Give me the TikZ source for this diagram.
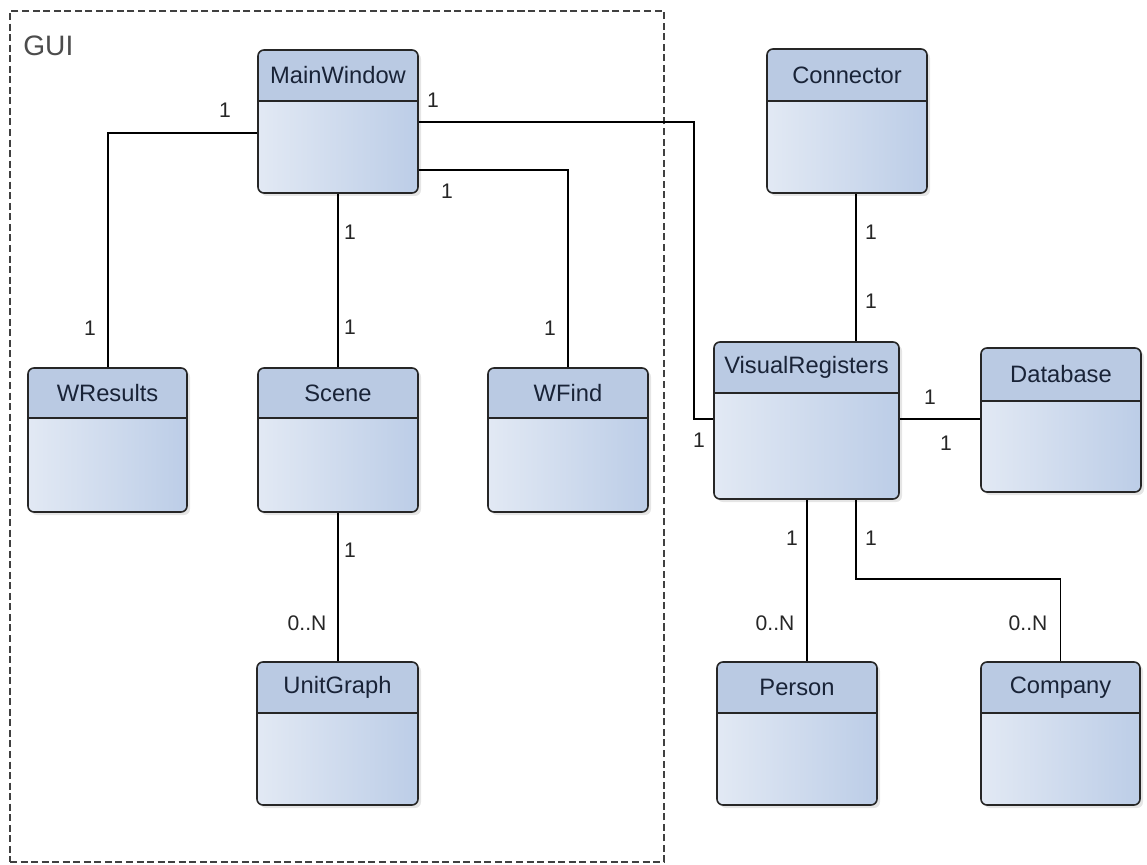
\documentclass[tikz,border=0pt]{standalone}
\usepackage{fontspec}
\setmainfont{Liberation Sans}
\usetikzlibrary{fit,calc}
\definecolor{headc}{RGB}{186,202,227}
\definecolor{bodyL}{RGB}{226,233,244}
\definecolor{bodyR}{RGB}{188,205,231}
\definecolor{txtc}{RGB}{25,35,55}
\tikzset{
  classbox/.style={draw=black!85, line width=0.9pt, rounded corners=3.4pt, inner sep=0pt},
  boxline/.style={draw=black!85, line width=0.9pt},
  classname/.style={font=\fontsize{13.5}{16}\selectfont, text=txtc, inner sep=0pt},
  mult/.style={font=\fontsize{12}{14}\selectfont, text=black!85, inner sep=0pt},
  assoc/.style={draw=black, line width=0.8pt},
  package/.style={draw=black!75, line width=0.6pt, dash pattern=on 4pt off 2pt}
}
\newcommand{\umlclass}[7]{%
  \fill[black, opacity=0.10, rounded corners=3.4pt] (#2+3,#3+3) rectangle (#4+3,#5+3);
  \shade[rounded corners=3.4pt, left color=bodyL, right color=bodyR] (#2,#3) rectangle (#4,#5);
  \begin{scope}
    \clip (#2-2,#3-2) rectangle (#4+2,#6);
    \fill[headc, rounded corners=3.4pt] (#2,#3) rectangle (#4,#5);
  \end{scope}
  \draw[boxline] (#2,#6) -- (#4,#6);
  \coordinate (#1-nw) at (#2,#3);
  \coordinate (#1-se) at (#4,#5);
  \node[classbox, fit=(#1-nw)(#1-se)] (#1) {};
  \node[classname] (#1-name) at ($(#2,#3)!0.5!(#4,#6)$) {#7};
}
\begin{document}
\begin{tikzpicture}[x=0.02cm, y=-0.02cm]
\useasboundingbox (0,0) rectangle (1147,865);
\fill[white] (0,0) rectangle (1147,865);

% GUI package
\node[package, fit={(10,11)(664,862)}, inner sep=0pt] (gui) {};
\node[font=\fontsize{16}{19}\selectfont, text=black!70, inner sep=0pt, anchor=north west] (guilabel) at (23,36) {GUI};

% classes
\umlclass{MainWindow}{258}{50}{418}{193}{101}{MainWindow}
\umlclass{Connector}{767}{49}{927}{193}{101}{Connector}
\umlclass{WResults}{28}{368}{187}{512}{418}{WResults}
\umlclass{Scene}{258}{368}{418}{512}{418}{Scene}
\umlclass{WFind}{488}{368}{648}{512}{418}{WFind}
\umlclass{UnitGraph}{257}{662}{418}{805}{713}{UnitGraph}
\umlclass{VisualRegisters}{714}{342}{899}{499}{393}{VisualRegisters}
\umlclass{Database}{981}{348}{1141}{492}{401}{Database}
\umlclass{Person}{717}{662}{877}{805}{713}{Person}
\umlclass{Company}{981}{662}{1140}{805}{713}{Company}

% associations
\draw[assoc] (MainWindow.west |- 0,133) -| (WResults.north -| 108,0);
\draw[assoc] (MainWindow.east |- 0,122) -- (694,122) |- (VisualRegisters.west |- 0,419);
\draw[assoc] (MainWindow.east |- 0,170) -| (WFind.north -| 568,0);
\draw[assoc] (MainWindow.south -| 338,0) -- (Scene.north -| 338,0);
\draw[assoc] (Scene.south -| 338,0) -- (UnitGraph.north -| 338,0);
\draw[assoc] (Connector.south -| 856,0) -- (VisualRegisters.north -| 856,0);
\draw[assoc] (VisualRegisters.east |- 0,419) -- (Database.west |- 0,419);
\draw[assoc] (VisualRegisters.south -| 807,0) -- (Person.north -| 807,0);
\draw[assoc] (VisualRegisters.south -| 856,0) |- (Company.north |- 0,579) -- (Company.north);

% multiplicities
\node[mult] (m1) at (225,110) {1};
\node[mult] (m2) at (90,328) {1};
\node[mult] (m3) at (433,100) {1};
\node[mult] (m4) at (699,440) {1};
\node[mult] (m5) at (447,191) {1};
\node[mult] (m6) at (550,328) {1};
\node[mult] (m7) at (350,232) {1};
\node[mult] (m8) at (350,327) {1};
\node[mult] (m9) at (350,550) {1};
\node[mult] (m10) at (307,623) {0..N};
\node[mult] (m11) at (871,232) {1};
\node[mult] (m12) at (871,301) {1};
\node[mult] (m13) at (930,397) {1};
\node[mult] (m14) at (946,443) {1};
\node[mult] (m15) at (792,538) {1};
\node[mult] (m16) at (775,623) {0..N};
\node[mult] (m17) at (871,538) {1};
\node[mult] (m18) at (1028,623) {0..N};
\end{tikzpicture}
\end{document}
